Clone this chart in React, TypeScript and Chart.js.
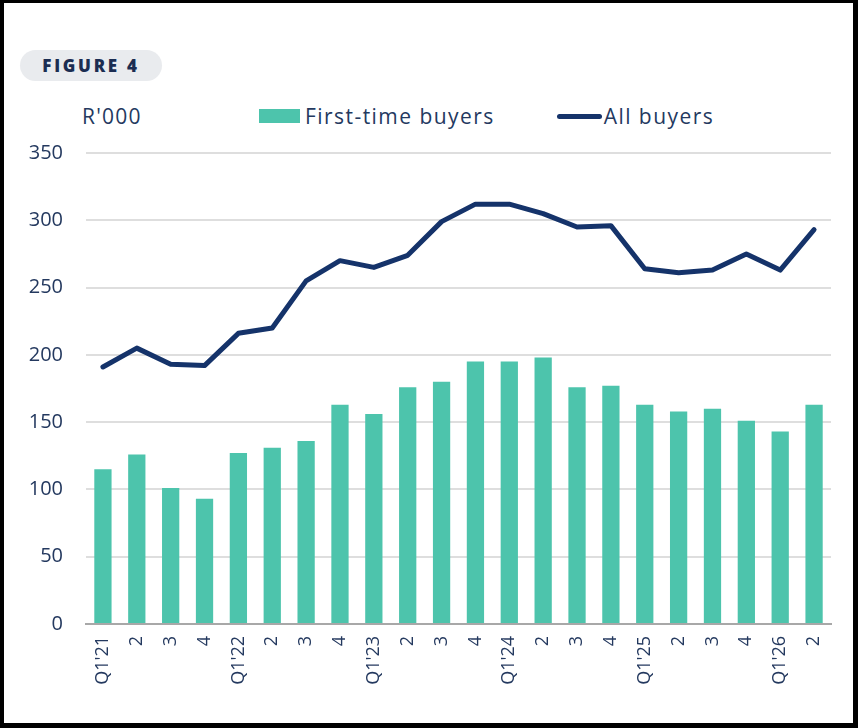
import React, { useEffect, useRef } from "react";
import { Chart, registerables } from "chart.js";

Chart.register(...registerables);

const categories = [
  "Q1'21", "2", "3", "4",
  "Q1'22", "2", "3", "4",
  "Q1'23", "2", "3", "4",
  "Q1'24", "2", "3", "4",
  "Q1'25", "2", "3", "4",
  "Q1'26", "2",
];

const firstTimeBuyers = [
  115, 126, 101, 93,
  127, 131, 136, 163,
  156, 176, 180, 195,
  195, 198, 176, 177,
  163, 158, 160, 151,
  143, 163,
];

const allBuyers = [
  191, 205, 193, 192,
  216, 220, 255, 270,
  265, 274, 299, 312,
  312, 305, 295, 296,
  264, 261, 263, 275,
  263, 293,
];

const yTicks = [0, 50, 100, 150, 200, 250, 300, 350];

const TEAL = "#4dc4ac";
const NAVY = "#15336a";
const TEXT = "#24395f";
const FONT = "'Open Sans', 'Noto Sans', sans-serif";

export default function App() {
  const canvasRef = useRef<HTMLCanvasElement | null>(null);

  useEffect(() => {
    document.body.style.margin = "0";
    const canvas = canvasRef.current;
    if (!canvas) return;
    const chart = new Chart(canvas, {
      type: "bar",
      data: {
        labels: categories,
        datasets: [
          {
            type: "line",
            label: "All buyers",
            data: allBuyers,
            borderColor: NAVY,
            backgroundColor: NAVY,
            borderWidth: 5,
            pointRadius: 0,
            tension: 0,
            borderCapStyle: "round",
            borderJoinStyle: "round",
            order: 0,
          },
          {
            type: "bar",
            label: "First-time buyers",
            data: firstTimeBuyers,
            backgroundColor: TEAL,
            borderWidth: 0,
            categoryPercentage: 1,
            barPercentage: 0.51,
            order: 1,
          },
        ],
      },
      options: {
        animation: false,
        responsive: true,
        maintainAspectRatio: false,
        layout: { padding: { top: 4, right: 22, left: 0, bottom: 0 } },
        plugins: {
          legend: { display: false },
          tooltip: { enabled: false },
        },
        scales: {
          x: {
            grid: { display: false, drawTicks: false },
            border: { display: true, color: "#a8a8a8", width: 2 },
            ticks: {
              color: TEXT,
              font: { family: FONT, size: 18 },
              maxRotation: 90,
              minRotation: 90,
              padding: 12,
              autoSkip: false,
            },
            afterFit: (scale: any) => {
              scale.height = 99;
            },
          },
          y: {
            min: 0,
            max: 350,
            afterBuildTicks: (scale: any) => {
              scale.ticks = yTicks.map((v) => ({ value: v }));
            },
            grid: { color: "#dedede", lineWidth: 2, drawTicks: false },
            border: { display: false },
            ticks: {
              color: TEXT,
              font: { family: FONT, size: 20 },
              padding: 23,
            },
            afterFit: (scale: any) => {
              scale.width = 82;
            },
          },
        },
      },
    });
    return () => chart.destroy();
  }, []);

  return (
    <div style={{ position: "relative", width: 858, height: 728, background: "#000", overflow: "hidden" }}>
      <div style={{ position: "absolute", left: 4, top: 3, width: 849, height: 720, background: "#fff" }}>
        <div
          style={{
            position: "absolute",
            left: 16,
            top: 47,
            width: 142,
            height: 31,
            borderRadius: 16,
            background: "#e9ebee",
            display: "flex",
            alignItems: "center",
            justifyContent: "center",
            fontFamily: FONT,
            fontWeight: 800,
            fontSize: 17,
            letterSpacing: 2.7,
            color: "#1b2d52",
          }}
        >
          FIGURE 4
        </div>
        <div
          style={{
            position: "absolute",
            left: 78,
            top: 99,
            fontFamily: FONT,
            fontSize: 21,
            letterSpacing: 1.2,
            color: TEXT,
            lineHeight: "28px",
          }}
        >
          R'000
        </div>
        <div
          style={{
            position: "absolute",
            left: 255,
            top: 99,
            display: "flex",
            alignItems: "center",
            fontFamily: FONT,
            fontSize: 21,
            letterSpacing: 1.45,
            color: TEXT,
            lineHeight: "28px",
            whiteSpace: "nowrap",
          }}
        >
          <span style={{ display: "inline-block", width: 41, height: 14, background: TEAL, marginRight: 5 }} />
          <span>First-time buyers</span>
          <span
            style={{
              display: "inline-block",
              width: 45,
              height: 5,
              borderRadius: 3,
              background: NAVY,
              marginLeft: 62,
              marginRight: 2,
            }}
          />
          <span>All buyers</span>
        </div>
        <div style={{ position: "absolute", left: 0, top: 115, width: 849, height: 605 }}>
          <canvas ref={canvasRef} />
        </div>
      </div>
    </div>
  );
}
